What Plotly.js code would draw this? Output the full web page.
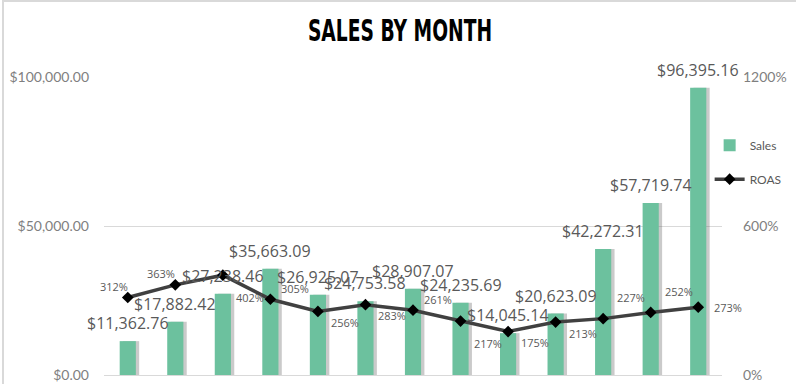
<!DOCTYPE html>
<html>
<head>
<meta charset="utf-8">
<script src="https://cdn.plot.ly/plotly-3.0.1.min.js"></script>
<style>
  html, body { margin: 0; padding: 0; background: #ffffff; }
  #wrap { position: relative; width: 796px; height: 384px; overflow: hidden; }
  #chart { width: 796px; height: 384px; }
  #frame { position: absolute; left: 2px; top: 0; width: 800px; height: 400px;
           border-left: 2px solid #d9d9d9; border-top: 2px solid #d9d9d9; pointer-events: none; }
  #chart .gtitle { transform: scaleX(0.67); transform-origin: 400px 0px; }
</style>
</head>
<body>
<div id="wrap">
  <div id="chart"></div>
  <div id="frame"></div>
</div>
<script>
// Data
const months = ["Month 1", "Month 2", "Month 3", "Month 4", "Month 5", "Month 6", "Month 7",
                "Month 8", "Month 9", "Month 10", "Month 11", "Month 12", "Month 13"];
const sales = [11362.76, 17882.42, 27238.46, 35663.09, 26925.07, 24753.58, 28907.07,
               24235.69, 14045.14, 20623.09, 42272.31, 57719.74, 96395.16];
const roas = [312, 363, 402, 305, 256, 283, 261, 217, 175, 213, 227, 252, 273];
const roasTickVals = [0, 600, 1200];
const salesTickVals = [0, 50000, 100000];

// Label placement classes (style only): tl = above-left, tr/tr2 = above-right,
// br/br2 = below-right, mr = right
const roasLabelPos = ["tl", "tl", "br2", "tr", "br", "br", "tr", "br2", "br", "br", "tr2", "tr2", "mr"];
const labelShift = {
  tl:  { x: -14, y: 11 },
  tr:  { x: 25,  y: 11 },
  tr2: { x: 28,  y: 21 },
  br:  { x: 27,  y: -11 },
  br2: { x: 27,  y: -22 },
  mr:  { x: 30,  y: 0 }
};

const labelFont = "'Open Sans', Lato, sans-serif";
const tickFont = "Lato, 'Open Sans', sans-serif";

const fmtMoney = v => "$" + v.toLocaleString("en-US", { minimumFractionDigits: 2, maximumFractionDigits: 2 });

const shadowTrace = {
  type: "bar",
  name: "shadow",
  x: months,
  y: sales,
  width: 0.34,
  offset: -0.1,
  marker: { color: "rgba(90,90,90,0.32)" },
  showlegend: false,
  hoverinfo: "skip"
};

const salesTrace = {
  type: "bar",
  name: "Sales",
  x: months,
  y: sales,
  width: 0.34,
  offset: -0.17,
  marker: { color: "#6cc19e" },
  legendgroup: "a",
  hoverinfo: "x+y"
};

const roasTrace = {
  type: "scatter",
  mode: "lines+markers",
  name: "ROAS",
  x: months,
  y: roas,
  yaxis: "y2",
  line: { color: "#404040", width: 3.5 },
  marker: { symbol: "diamond", size: 9, color: "#000000" },
  cliponaxis: false,
  legendgroup: "b"
};

const salesLabels = months.map((m, i) => ({
  x: m,
  y: sales[i],
  xref: "x",
  yref: "y",
  text: fmtMoney(sales[i]),
  showarrow: false,
  yanchor: "bottom",
  yshift: 5,
  font: { family: labelFont, size: 16, color: "#595959" }
}));

const roasLabels = months.map((m, i) => ({
  x: m,
  y: roas[i],
  xref: "x",
  yref: "y2",
  text: roas[i] + "%",
  showarrow: false,
  xanchor: "center",
  yanchor: "middle",
  xshift: labelShift[roasLabelPos[i]].x,
  yshift: labelShift[roasLabelPos[i]].y,
  font: { family: labelFont, size: 11, color: "#595959" }
}));

const layout = {
  width: 796,
  height: 384,
  margin: { l: 104, r: 68, t: 77, b: 9 },
  paper_bgcolor: "#ffffff",
  plot_bgcolor: "#ffffff",
  barmode: "overlay",
  title: {
    text: "<b>SALES BY MONTH</b>",
    font: { family: "'DejaVu Sans Condensed', 'DejaVu Sans', sans-serif", size: 31, color: "#000000" },
    x: 0.5025, xanchor: "center", xref: "container",
    y: 0.922, yanchor: "middle"
  },
  xaxis: {
    type: "category",
    range: [-0.5, months.length - 0.5],
    showticklabels: false,
    showgrid: false,
    showline: true,
    linecolor: "#d9d9d9",
    linewidth: 1,
    ticks: ""
  },
  yaxis: {
    range: [0, 100000],
    tickvals: salesTickVals,
    ticktext: salesTickVals.map(fmtMoney),
    showgrid: true,
    gridcolor: "#d9d9d9",
    gridwidth: 1,
    zeroline: false,
    ticks: "",
    ticklabelstandoff: 14,
    tickfont: { family: tickFont, size: 14, color: "#7f7f7f" }
  },
  yaxis2: {
    overlaying: "y",
    side: "right",
    range: [0, 1200],
    tickvals: roasTickVals,
    ticktext: roasTickVals.map(v => v + "%"),
    showgrid: false,
    zeroline: false,
    ticks: "",
    ticklabelstandoff: 20,
    tickfont: { family: tickFont, size: 14, color: "#7f7f7f" }
  },
  annotations: salesLabels.concat(roasLabels),
  legend: {
    x: 0.98, xanchor: "left",
    y: 0.82, yanchor: "top",
    bgcolor: "rgba(0,0,0,0)",
    traceorder: "grouped",
    tracegroupgap: 15,
    font: { family: tickFont, size: 12, color: "#595959" }
  },
  showlegend: true
};

Plotly.newPlot("chart", [shadowTrace, salesTrace, roasTrace], layout, { displayModeBar: false, staticPlot: true });
</script>
</body>
</html>
